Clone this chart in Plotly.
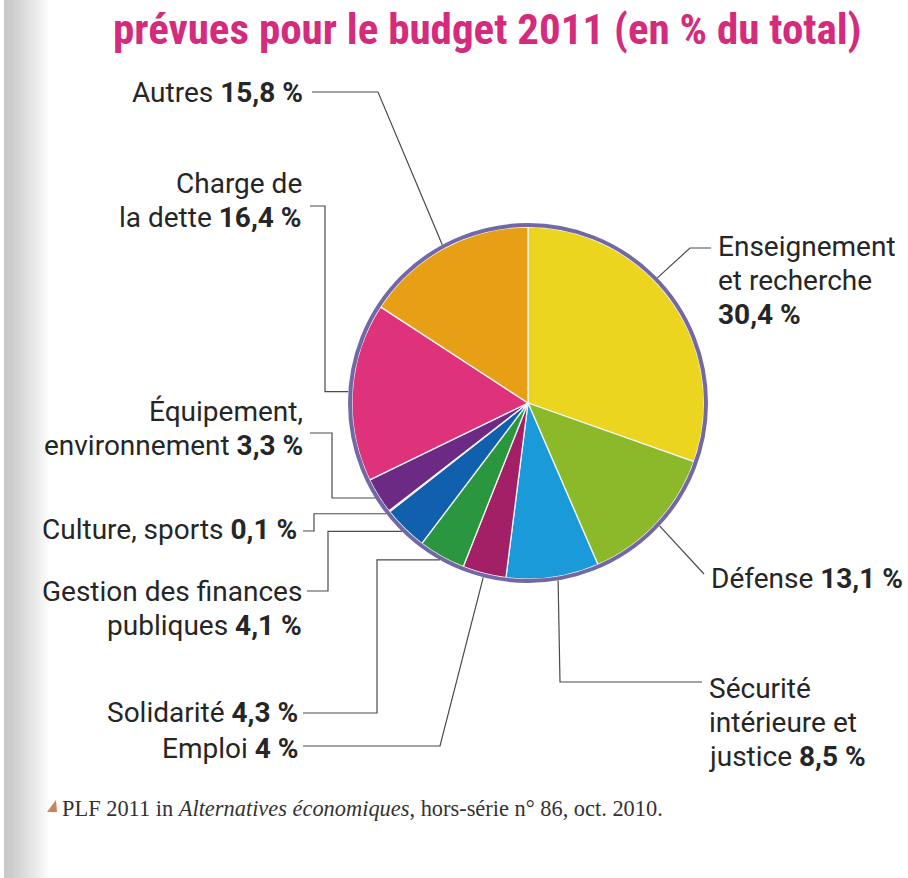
import math
import plotly.graph_objects as go

# ---------------- data ----------------
categories = ["Enseignement et recherche", "Défense", "Sécurité intérieure et justice",
              "Emploi", "Solidarité", "Gestion des finances publiques", "Culture, sports",
              "Équipement, environnement", "Charge de la dette", "Autres"]
values = [30.4, 13.1, 8.5, 4.0, 4.3, 4.1, 0.1, 3.3, 16.4, 15.8]
display_names = ["Enseignement<br>et recherche<br>", "Défense ", "Sécurité<br>intérieure et<br>justice ",
                 "Emploi ", "Solidarité ", "Gestion des finances<br>publiques ", "Culture, sports ",
                 "Équipement,<br>environnement ", "Charge de<br>la dette ", "Autres "]
colors = ["#ecd51f", "#8cb92a", "#1a9ad8", "#a31f66", "#2a9640", "#1160ad", "#d9d9e3",
          "#6c2a84", "#de327a", "#e7a016"]

title_text = "prévues pour le budget 2011 (en % du total)"
source_text = "PLF 2011 in <i>Alternatives économiques</i>, hors-série n° 86, oct. 2010."

# ---------------- layout geometry (pixels) ----------------
W, H = 908, 878
CX, CY = 528, 403
R_PIE = 176
R_EDGE = 180

def px(x):
    return x / W

def py(y):
    return 1 - y / H

# label placement: (x, y of first line, anchor)
label_pos = [(716, 246, "left"), (709, 578, "left"), (707, 688, "left"),
             (300, 748, "right"), (300, 712, "right"), (304, 591, "right"),
             (299, 529, "right"), (305, 411, "right"), (304, 183, "right"), (305, 92, "right")]
anchor_frac = [0.42, 0.5, 0.45, 0.5, 0.5, 0.5, 0.5, 0.5, 0.5, 0.5]
LINE_GAP = 34

total = sum(values)
starts = []
acc = 0
for v in values:
    starts.append(acc)
    acc += v

def edge_point(i):
    a = 2 * math.pi * (starts[i] + anchor_frac[i] * values[i]) / total
    return CX + R_EDGE * math.sin(a), CY - R_EDGE * math.cos(a)

def route(i):
    ex, ey = edge_point(i)
    E = (ex, ey)
    r = {
        0: [E, (690, 248), (711, 248)],
        1: [E, (704, 574)],
        2: [E, (560, 682), (702, 682)],
        3: [(303, 746), (440, 746), E],
        4: [(303, 713), (377, 713), (377, ey), E],
        5: [(307, 591), (328, 591), (328, ey), E],
        6: [(303, 531), (314, 531), (314, ey), E],
        7: [(310, 433), (332, 433), (332, ey), E],
        8: [(310, 206), (325, 206), (325, ey), E],
        9: [(312, 92), (378, 92), E],
    }
    return r[i]

def pct(v):
    s = f"{v:.1f}".replace(".", ",")
    if s.endswith(",0"):
        s = s[:-2]
    return s + " %"

fig = go.Figure()
fig.add_trace(go.Pie(
    labels=categories, values=values, sort=False, direction="clockwise", rotation=0,
    marker=dict(colors=colors, line=dict(color="#f4f4f4", width=1.3)),
    textinfo="none", hoverinfo="skip", showlegend=False,
    domain=dict(x=[px(CX - R_PIE), px(CX + R_PIE)], y=[py(CY + R_PIE), py(CY - R_PIE)]),
))

shapes = []
# scanned page gradient on the left edge
for k in range(46):
    x0 = 4 + k
    g = 200 + int(55 * (k / 45) ** 1.2)
    g = min(g, 255)
    shapes.append(dict(type="rect", xref="paper", yref="paper", x0=px(x0), x1=px(x0 + 1.05),
                       y0=0, y1=1, fillcolor=f"rgb({g},{g},{g})", line=dict(width=0), layer="below"))
# pie outer ring
shapes.append(dict(type="circle", xref="paper", yref="paper",
                   x0=px(CX - R_EDGE + 2), x1=px(CX + R_EDGE - 2),
                   y0=py(CY + R_EDGE - 2), y1=py(CY - R_EDGE + 2),
                   line=dict(color="#7268a6", width=4)))
# leader lines
for i in range(len(values)):
    pts = route(i)
    path = "M " + " L ".join(f"{px(x):.5f},{py(y):.5f}" for x, y in pts)
    shapes.append(dict(type="path", xref="paper", yref="paper", path=path,
                       line=dict(color="#4a4a4a", width=1.2)))
# source marker
shapes.append(dict(type="path", xref="paper", yref="paper",
                   path=f"M {px(47)},{py(812)} L {px(56)},{py(800)} L {px(57)},{py(812)} Z",
                   fillcolor="#c9825a", line=dict(width=0)))

annotations = []
FONT = "Roboto, Inter, sans-serif"
for i, v in enumerate(values):
    full = display_names[i] + f"<b>{pct(v)}</b>"
    lines = full.split("<br>")
    x, y0, anc = label_pos[i]
    for j, ln in enumerate(lines):
        annotations.append(dict(x=px(x), y=py(y0 + j * LINE_GAP), xref="paper", yref="paper",
                                text=ln, showarrow=False, xanchor=anc, yanchor="middle",
                                font=dict(family=FONT, size=28, color="#262626")))

annotations.append(dict(x=px(487), y=py(29), xref="paper", yref="paper", text=f"<b>{title_text}</b>",
                        showarrow=False, xanchor="center", yanchor="middle",
                        font=dict(family="Liberation Sans Narrow, Roboto Condensed, Roboto", size=43,
                                  color="#d42b7c")))
annotations.append(dict(x=px(60), y=py(808), xref="paper", yref="paper", text=source_text,
                        showarrow=False, xanchor="left", yanchor="middle",
                        font=dict(family="Liberation Serif, DejaVu Serif, serif", size=22.4,
                                  color="#333333")))

fig.update_layout(width=W, height=H, margin=dict(l=0, r=0, t=0, b=0),
                  paper_bgcolor="white", plot_bgcolor="white",
                  shapes=shapes, annotations=annotations, showlegend=False)

fig.write_html("out.html", config={"displayModeBar": False},
               post_script="document.body.style.margin='0';")
